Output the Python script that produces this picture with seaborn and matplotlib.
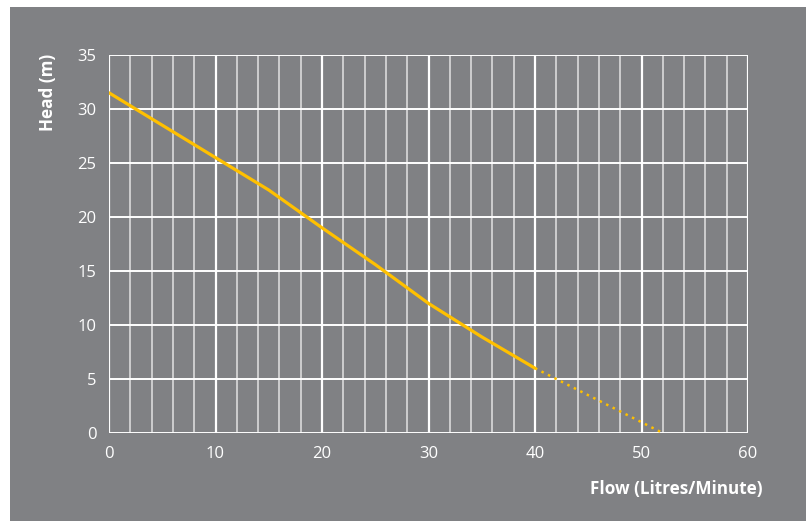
import numpy as np
import pandas as pd
import seaborn as sns
import matplotlib.pyplot as plt

# Pump curve
flow_solid = [0, 5, 10, 15, 20, 25, 30, 35, 40]
head_solid = [31.5, 28.5, 25.5, 22.5, 19.0, 15.6, 12.0, 8.9, 6.0]
flow_dotted = [40, 46, 52]
head_dotted = [6.0, 3.0, 0.0]

x_ticks = [0, 10, 20, 30, 40, 50, 60]
y_ticks = [0, 5, 10, 15, 20, 25, 30, 35]

BG = "#808184"
YELLOW = "#FFC000"

sns.set_theme(style="white")
plt.rcParams["font.family"] = ["Open Sans", "DejaVu Sans"]

fig = plt.figure(figsize=(8.06, 5.21), dpi=100)
fig.patch.set_facecolor("white")

# grey panel behind everything
bg = fig.add_axes([10 / 806, 0, 1 - 10 / 806, 1 - 7 / 521], zorder=0)
bg.set_facecolor(BG)
bg.set_xticks([])
bg.set_yticks([])
for s in bg.spines.values():
    s.set_visible(False)

ax = fig.add_axes([109 / 806, 1 - 433 / 521, (748 - 109) / 806, (433 - 55) / 521], zorder=1)
ax.set_facecolor(BG)

# grid
for gx in np.arange(0, 61, 2):
    major = gx % 10 == 0
    ax.axvline(gx, color="white" if major else "#e2e2e2", lw=1.6 if major else 1.1, zorder=1)
for gy in y_ticks:
    ax.axhline(gy, color="white", lw=1.4, zorder=1)

solid = pd.DataFrame({"flow": flow_solid, "head": head_solid})
dotted = pd.DataFrame({"flow": flow_dotted, "head": head_dotted})
sns.lineplot(data=solid, x="flow", y="head", color=YELLOW, lw=2.3, ax=ax, zorder=3)
sns.lineplot(data=dotted, x="flow", y="head", color=YELLOW, lw=1.8, ax=ax, zorder=3,
             linestyle=(0, (1, 1.9)))

ax.set_xlim(0, 60)
ax.set_ylim(0, 35)
ax.set_xticks(x_ticks)
ax.set_yticks(y_ticks)
ax.tick_params(colors="white", labelsize=12, length=0, pad=9)
for s in ax.spines.values():
    s.set_visible(False)

ax.set_xlabel("")
ax.set_ylabel("")
fig.text(763 / 806, 1 - 489 / 521, "Flow (Litres/Minute)", color="white", fontsize=12.3,
         fontweight="bold", ha="right", va="center")
fig.text(48 / 806, 1 - 54 / 521, "Head (m)", color="white", fontsize=12.3,
         fontweight="bold", rotation=90, ha="center", va="top")

fig.savefig("out.png", dpi=100, facecolor=fig.get_facecolor())
